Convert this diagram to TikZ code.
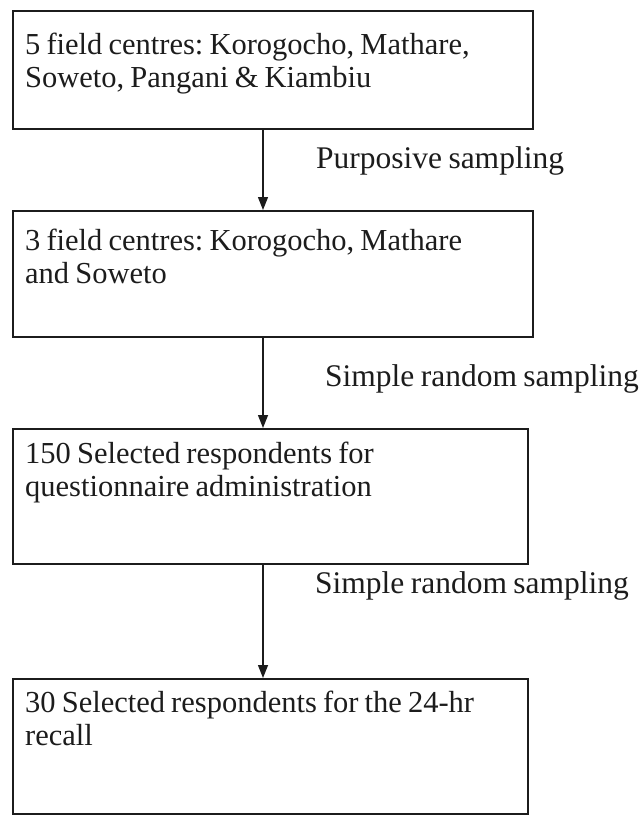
\documentclass[tikz,border=0pt]{standalone}
\usepackage{fontspec}
\setmainfont[WordSpace=0.8]{Liberation Serif}
\usetikzlibrary{arrows.meta}
\definecolor{ink}{HTML}{1C1C1C}
\begin{document}
\frenchspacing
\begin{tikzpicture}[x=1pt,y=-1pt,
 boxst/.style={draw=ink,line width=1.7pt,rectangle,inner sep=0pt,anchor=north west},
 txt/.style={anchor=north west,inner sep=0pt,align=left,font=\fontsize{30.5}{33}\selectfont\frenchspacing,text=ink},
 lab/.style={anchor=base west,inner sep=0pt,font=\fontsize{31.5}{33}\selectfont\frenchspacing,text=ink},
 conn/.style={draw=ink,line width=1.4pt,-{Triangle[length=13pt,width=10pt]}}]
\useasboundingbox (0,0) rectangle (643,816);
\node[boxst,minimum width=520pt,minimum height=118pt] (b1) at (12,10) {};
\node[boxst,minimum width=520pt,minimum height=126pt] (b2) at (12,210) {};
\node[boxst,minimum width=515pt,minimum height=135pt] (b3) at (12,428) {};
\node[boxst,minimum width=515pt,minimum height=135pt] (b4) at (12,678) {};
\node[txt] (t1) at (25,33) {5 field centres: Korogocho, Mathare,\\Soweto, Pangani \& Kiambiu};
\node[txt] (t2) at (25,229) {3 field centres: Korogocho, Mathare\\and Soweto};
\node[txt] (t3) at (25,442) {150 Selected respondents for\\questionnaire administration};
\node[txt] (t4) at (25,691) {30 Selected respondents for the 24-hr\\recall};
\coordinate (ax) at (263,0);
\draw[conn] (b1.south -| ax) -- (b2.north -| ax);
\draw[conn] (b2.south -| ax) -- (b3.north -| ax);
\draw[conn] (b3.south -| ax) -- (b4.north -| ax);
\node[lab] (l1) at (316,168) {Purposive sampling};
\node[lab] (l2) at (325,386) {Simple random sampling};
\node[lab] (l3) at (315,593) {Simple random sampling};
\end{tikzpicture}
\end{document}
